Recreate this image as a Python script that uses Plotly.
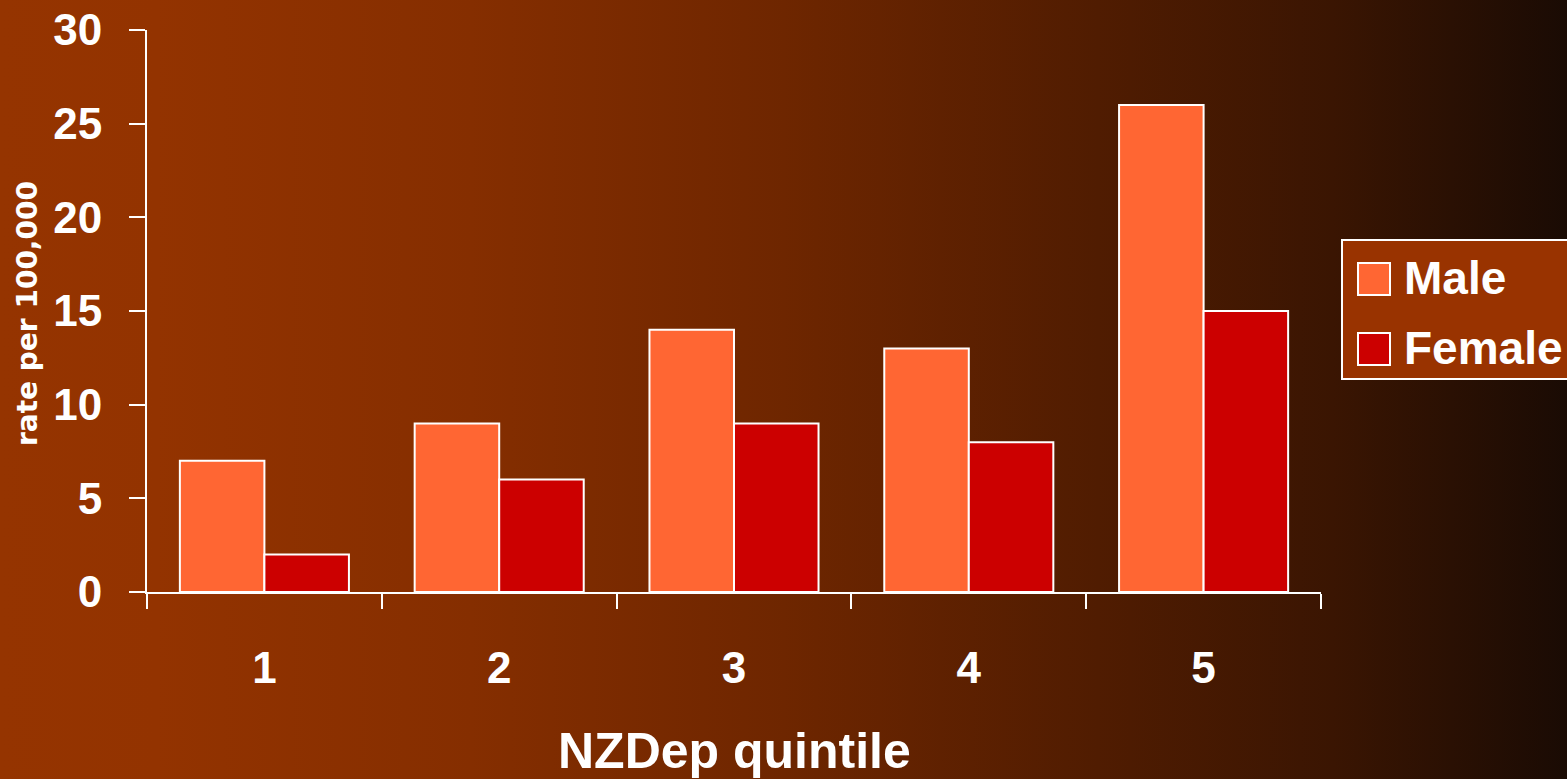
import base64
import plotly.graph_objects as go

# Road-injury style rates by deprivation quintile
quintiles = ["1", "2", "3", "4", "5"]
male_rate = [7, 9, 14, 13, 26]
female_rate = [2, 6, 9, 8, 15]
y_ticks = [0, 5, 10, 15, 20, 25, 30]

W, H = 1567, 779
PLOT_L, PLOT_R, PLOT_T, PLOT_B = 147, 1321, 30, 592

MALE_COLOR = "#FF6633"
FEMALE_COLOR = "#CC0000"
FONT = "Liberation Sans, Arial, sans-serif"


def px_x(px):
    """Pixel column -> paper x."""
    return (px - PLOT_L) / (PLOT_R - PLOT_L)


def px_y(py):
    """Pixel row -> paper y."""
    return (PLOT_B - py) / (PLOT_B - PLOT_T)


# Horizontal brown gradient backdrop as an inline SVG image
grad_svg = f"""<svg xmlns='http://www.w3.org/2000/svg' width='{W}' height='{H}' preserveAspectRatio='none'>
<defs><linearGradient id='g' x1='0' y1='0' x2='1' y2='0'>
<stop offset='0' stop-color='#953400'/>
<stop offset='0.1' stop-color='#933300'/>
<stop offset='0.3' stop-color='#852e00'/>
<stop offset='0.5' stop-color='#6e2600'/>
<stop offset='0.7' stop-color='#501c01'/>
<stop offset='0.85' stop-color='#3a1502'/>
<stop offset='1' stop-color='#1a0b04'/>
</linearGradient></defs>
<rect width='{W}' height='{H}' fill='url(#g)'/></svg>"""
grad_uri = "data:image/svg+xml;base64," + base64.b64encode(grad_svg.encode()).decode()

fig = go.Figure()
fig.add_trace(go.Bar(x=quintiles, y=male_rate, name="Male",
                     marker=dict(color=MALE_COLOR, line=dict(color="white", width=2)),
                     showlegend=False))
fig.add_trace(go.Bar(x=quintiles, y=female_rate, name="Female",
                     marker=dict(color=FEMALE_COLOR, line=dict(color="white", width=2)),
                     showlegend=False))

fig.add_layout_image(dict(source=grad_uri, xref="paper", yref="paper",
                          x=px_x(0), y=px_y(-2), sizex=px_x(W + 2) - px_x(0),
                          sizey=px_y(-2) - px_y(H + 2), xanchor="left", yanchor="top",
                          sizing="stretch", layer="below"))

shapes = []
annotations = []

# Hand-built legend box
shapes.append(dict(type="rect", xref="paper", yref="paper",
                   x0=px_x(1342), x1=px_x(1620), y0=px_y(379), y1=px_y(240),
                   fillcolor="#993300", line=dict(color="white", width=2)))
for name, color, top in [("Male", MALE_COLOR, 263), ("Female", FEMALE_COLOR, 333)]:
    shapes.append(dict(type="rect", xref="paper", yref="paper",
                       x0=px_x(1358), x1=px_x(1390), y0=px_y(top + 32), y1=px_y(top),
                       fillcolor=color, line=dict(color="white", width=2)))
    annotations.append(dict(text=f"<b>{name}</b>", xref="paper", yref="paper",
                            x=px_x(1402), y=px_y(top + 15), xanchor="left", yanchor="middle",
                            showarrow=False, font=dict(family=FONT, size=46, color="white")))

# Axis titles
annotations.append(dict(text="<b>NZDep quintile</b>", xref="paper", yref="paper",
                        x=0.5, y=px_y(751), xanchor="center", yanchor="middle",
                        showarrow=False, font=dict(family=FONT, size=50, color="white")))
annotations.append(dict(text="rate per 100,000", xref="paper", yref="paper",
                        x=px_x(28), y=px_y(314), xanchor="center", yanchor="middle",
                        textangle=-90, showarrow=False,
                        font=dict(family="DejaVu Sans", size=28, color="white",
                                  weight="bold")))

fig.update_layout(
    width=W, height=H,
    margin=dict(l=PLOT_L, r=W - PLOT_R, t=PLOT_T, b=H - PLOT_B, pad=0, autoexpand=False),
    paper_bgcolor="#933300", plot_bgcolor="rgba(0,0,0,0)",
    barmode="group", bargap=0.28, bargroupgap=0,
    shapes=shapes, annotations=annotations,
    font=dict(family=FONT, color="white"),
)
fig.update_xaxes(type="category", range=[-0.5, 4.5], showgrid=False, zeroline=False,
                 automargin=False,
                 showline=True, linecolor="white", linewidth=2,
                 ticks="outside", tickson="boundaries", ticklen=15, tickwidth=2,
                 tickcolor="white", ticklabelstandoff=36,
                 tickfont=dict(family=FONT, size=44, color="white", weight="bold"))
fig.update_yaxes(range=[0, 30], tickvals=y_ticks, showgrid=False, zeroline=False,
                 automargin=False,
                 showline=True, linecolor="white", linewidth=2,
                 ticks="outside", ticklen=16, tickwidth=2, tickcolor="white",
                 ticklabelstandoff=18,
                 tickfont=dict(family=FONT, size=44, color="white", weight="bold"))

fig.write_html("out.html")
